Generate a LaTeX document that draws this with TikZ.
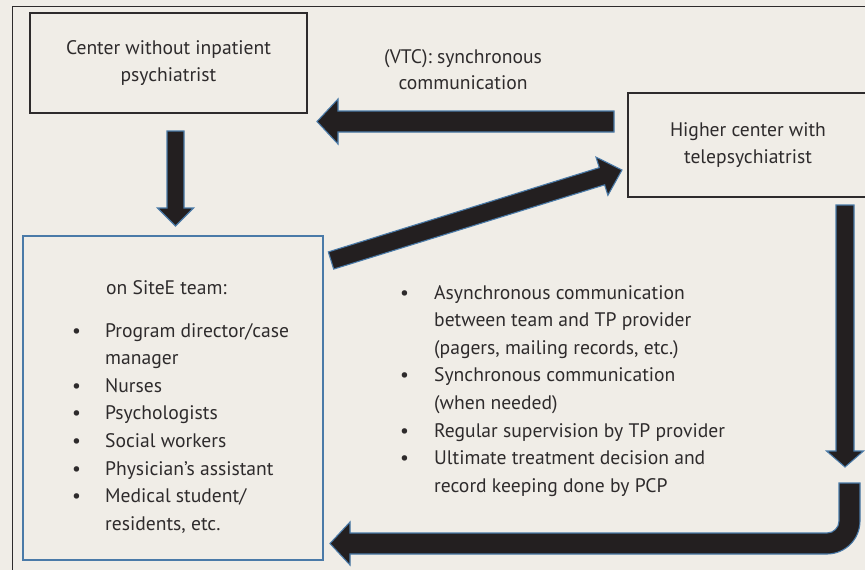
\documentclass[tikz,border=0pt]{standalone}
\usepackage{fontspec}
\setmainfont{PT Sans}
\usetikzlibrary{calc}

\definecolor{paper}{HTML}{F0EDE7}
\definecolor{ink}{HTML}{2E2B2C}
\definecolor{arrowfill}{HTML}{231F20}
\definecolor{arrowedge}{HTML}{4A7AA8}

% start, tip, shaft half width, head half width, head length
\newcommand{\fatarrow}[5]{%
  \coordinate (hb) at ($(#2)!#5!(#1)$);
  \filldraw[fat] ($(#1)!#3!90:(#2)$) -- ($(hb)!#3!90:(#2)$) -- ($(hb)!#4!90:(#2)$) -- (#2)
    -- ($(hb)!#4!-90:(#2)$) -- ($(hb)!#3!-90:(#2)$) -- ($(#1)!#3!-90:(#2)$) -- cycle;
}

\begin{document}
\begin{tikzpicture}[x=1pt,y=-1pt,
    box/.style={draw=ink,line width=1.3pt,align=center,text=ink},
    fat/.style={fill=arrowfill,draw=arrowedge,line width=1.1pt,line join=miter},
    every node/.style={font=\fontsize{19.6}{27.6}\selectfont,text=ink}]
    \useasboundingbox (0,0) rectangle (865,570);
    \fill[paper] (0,0) rectangle (865,570);
    \draw[ink,line width=0.9pt] (12,6) rectangle (890,600);

    \node[box,minimum width=277,minimum height=100] (nocenter) at (168.5,63) {Center without inpatient\\psychiatrist};
    \node[box,minimum width=240,minimum height=104] (higher) at (748,145) {Higher center with\\telepsychiatrist};
    \node[box,draw=arrowedge,minimum width=300,minimum height=324] (onsite) at (173,398) {};

    \node[align=center,font=\fontsize{19.6}{26}\selectfont] (vtc) at (463,70) {(VTC): synchronous\\communication};

    \node[anchor=base west,inner sep=0] (teamhead) at (106,294) {on SiteE team:};
    \node[anchor=base west,inner sep=0] (teamlist) at (72,337) {\begin{tabular}[t]{@{}p{33pt}@{}l@{}}
        \textbullet & Program director/case\\
                    & manager\\
        \textbullet & Nurses\\
        \textbullet & Psychologists\\
        \textbullet & Social workers\\
        \textbullet & Physician’s assistant\\
        \textbullet & Medical student/\\
                    & residents, etc.
    \end{tabular}};
    \node[anchor=base west,inner sep=0] (commlist) at (400,299) {\begin{tabular}[t]{@{}p{34pt}@{}l@{}}
        \textbullet & Asynchronous communication\\
                    & between team and TP provider\\
                    & (pagers, mailing records, etc.)\\
        \textbullet & Synchronous communication\\
                    & (when needed)\\
        \textbullet & Regular supervision by TP provider\\
        \textbullet & Ultimate treatment decision and\\
                    & record keeping done by PCP
    \end{tabular}};

    \coordinate (a1) at (175.5,131);
    \coordinate (a2) at (175.5,226);
    \coordinate (b1) at (614,121.5);
    \coordinate (b2) at (317,121.5);
    \coordinate (c1) at (331,260.5);
    \coordinate (c2) at (622,170);
    \coordinate (d1) at (845,205);
    \coordinate (d2) at (845,467);

    \fatarrow{a1}{a2}{8.5pt}{18pt}{18pt}
    \fatarrow{b1}{b2}{10.5pt}{22.5pt}{21pt}
    \fatarrow{c1}{c2}{9pt}{20pt}{21pt}
    \fatarrow{d1}{d2}{9pt}{18.5pt}{16pt}

    % return arrow
    \filldraw[fat] (839,483) -- (860,483) -- (860,521) arc[start angle=0,end angle=90,radius=33]
        -- (350,554) -- (350,565) -- (330,543.5) -- (350,522) -- (350,533) -- (827,533)
        arc[start angle=90,end angle=0,radius=12] -- cycle;
\end{tikzpicture}
\end{document}
